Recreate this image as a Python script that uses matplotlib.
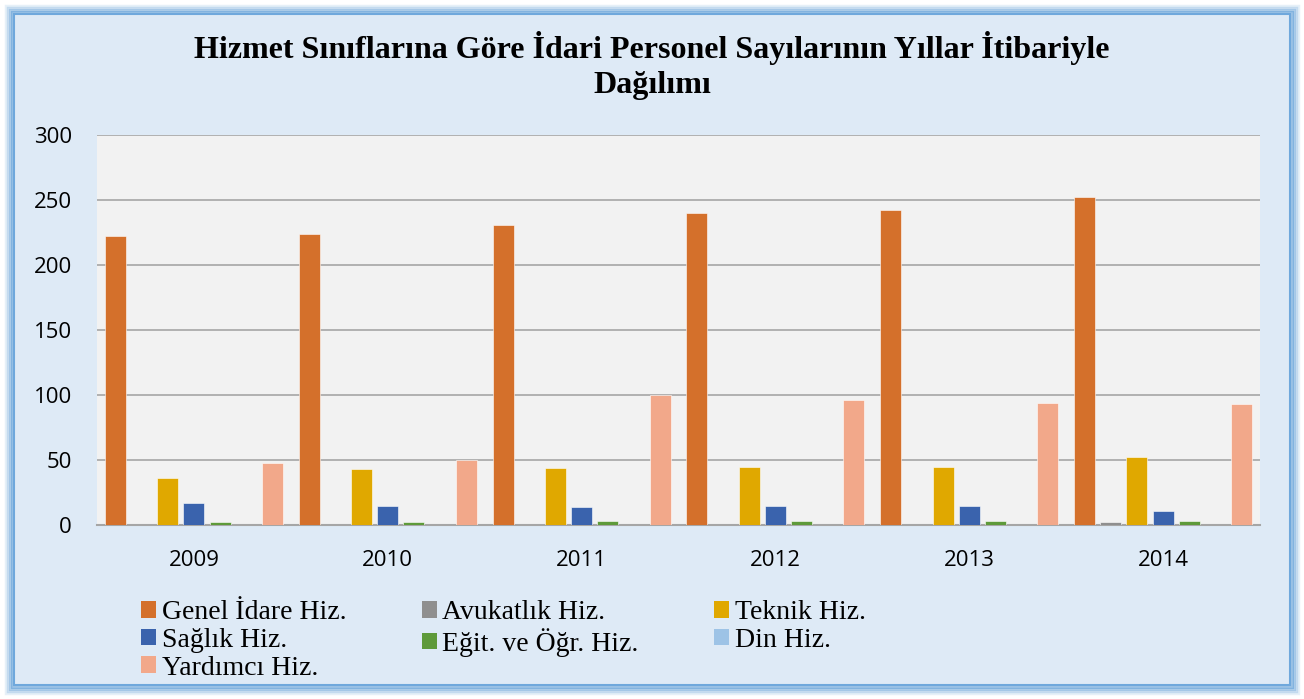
import matplotlib
matplotlib.use("Agg")
import matplotlib.pyplot as plt
import numpy as np
from matplotlib.patches import Rectangle, Patch

years = ["2009", "2010", "2011", "2012", "2013", "2014"]
series = [
    "Genel İdare Hiz.", "Avukatlık Hiz.", "Teknik Hiz.", "Sağlık Hiz.",
    "Eğit. ve Öğr. Hiz.", "Din Hiz.", "Yardımcı Hiz.",
]
genel = [222, 224, 231, 240, 242, 252]
avukatlik = [0, 0, 0, 0, 0, 2]
teknik = [36, 43, 44, 45, 45, 52]
saglik = [17, 15, 14, 15, 15, 11]
egitim = [2, 2, 3, 3, 3, 3]
din = [0, 0, 0, 0, 0, 0]
yardimci = [48, 50, 100, 96, 94, 93]

values = [genel, avukatlik, teknik, saglik, egitim, din, yardimci]
colors = ["#D4702B", "#8F8F8F", "#E0A800", "#3A63AD", "#5E9A3A", "#9DC3E6", "#F2A88A"]

fig = plt.figure(figsize=(13.04, 6.99), dpi=100)
fig.patch.set_facecolor("white")

# outer frame with blue glow
for i, a in enumerate([0.15, 0.25, 0.4, 0.6]):
    inset = 6 + i * 2
    fig.patches.append(Rectangle((inset / 1304, inset / 699),
                                 1 - 2 * inset / 1304, 1 - 2 * inset / 699,
                                 transform=fig.transFigure, facecolor="none",
                                 edgecolor="#5B9BD5", alpha=a, lw=2.5, zorder=-2))
fig.patches.append(Rectangle((14 / 1304, 14 / 699), 1 - 28 / 1304, 1 - 28 / 699,
                             transform=fig.transFigure, facecolor="#DEEAF6",
                             edgecolor="#6FA8DC", lw=1.5, zorder=-1))

ax = fig.add_axes([97 / 1304, 1 - 525 / 699, 1163 / 1304, 390 / 699])
ax.set_zorder(2)
ax.set_facecolor("#F2F2F2")

x = np.arange(len(years))
step = 0.135
width = 0.108
for k, (name, vals, c) in enumerate(zip(series, values, colors)):
    ax.bar(x + (k - 3) * step, vals, width=width, color=c, label=name,
           edgecolor="white", linewidth=0.4, zorder=3)

ax.set_xlim(-0.5, len(years) - 0.5)
ax.set_ylim(0, 300)
ax.set_yticks(range(0, 301, 50))
ax.yaxis.grid(True, color="#A6A6A6", lw=1.2, zorder=0)
ax.set_xticks(x)
ax.set_xticklabels(years)
ax.tick_params(axis="both", length=0, labelsize=16, colors="black")
for lbl in ax.get_xticklabels() + ax.get_yticklabels():
    lbl.set_family("Open Sans")
ax.tick_params(axis="x", pad=18)
ax.tick_params(axis="y", pad=18)
for s in ["top", "right", "left"]:
    ax.spines[s].set_visible(False)
ax.spines["bottom"].set_color("#A6A6A6")
ax.spines["bottom"].set_linewidth(1.5)

fig.text(0.5, 1 - 48 / 699, "Hizmet Sınıflarına Göre İdari Personel Sayılarının Yıllar İtibariyle",
         ha="center", va="center", fontsize=23, fontweight="bold", family="Liberation Serif")
fig.text(0.5, 1 - 86 / 699, "Dağılımı",
         ha="center", va="center", fontsize=23, fontweight="bold", family="Liberation Serif")

# legend filled row by row, as in the original
order = [0, 3, 6, 1, 4, 2, 5]
handles = [Patch(facecolor=colors[i], label=series[i]) for i in order]
leg = fig.legend(handles=handles, loc="upper left", bbox_to_anchor=(130 / 1304, 1 - 589 / 699),
                 ncol=3, frameon=False, prop={"family": "Liberation Serif", "size": 20},
                 handlelength=0.55, handleheight=0.55, handletextpad=0.2,
                 columnspacing=2.7, labelspacing=0.1, borderaxespad=0)

fig.savefig("out.png", dpi=100, facecolor=fig.get_facecolor())
